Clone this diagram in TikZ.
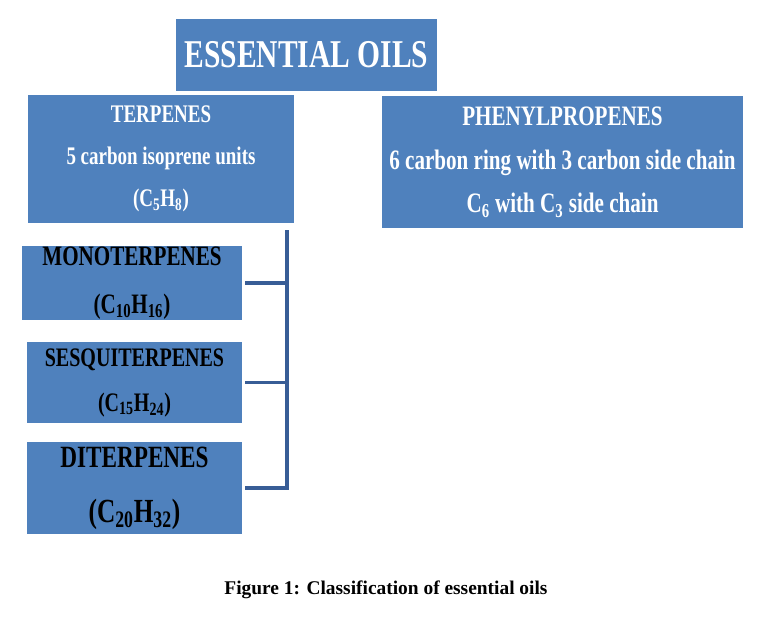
\documentclass[tikz,border=0pt]{standalone}
\usepackage{fontspec}
\setmainfont{Liberation Serif}
\newfontfamily\narrowfont{Liberation Serif}[FakeStretch=0.75]
\usepackage{tikz}
\usetikzlibrary{calc}
\definecolor{boxblue}{RGB}{79,129,189}
\definecolor{linkblue}{RGB}{56,93,150}
\tikzstyle{box} = [draw=none,fill=boxblue,align=center,inner sep=0pt]
\tikzstyle{link} = [linkblue,line width=2.2pt]

\begin{document}
\begin{tikzpicture}[x=0.025cm,y=-0.025cm]
\useasboundingbox (0,0) rectangle (776,641);

% top level
\node[box,text=white,minimum width=6.525cm,minimum height=1.8cm,
      font=\narrowfont\bfseries\fontsize{28}{30}\selectfont] (oils) at (306.5,55) {ESSENTIAL OILS};

% the two classes
\node[box,text=white,minimum width=6.65cm,minimum height=3.2cm,
      font=\narrowfont\bfseries\fontsize{18}{30}\selectfont] (terp) at (161,159)
      {TERPENES\\5 carbon isoprene units\\(C\textsubscript{5}H\textsubscript{8})};
\node[box,text=white,minimum width=9.025cm,minimum height=3.3cm,
      font=\narrowfont\bfseries\fontsize{20}{31}\selectfont] (phenyl) at (562.5,162)
      {PHENYLPROPENES\\6 carbon ring with 3 carbon side chain\\C\textsubscript{6} with C\textsubscript{3} side chain};

% kinds of terpenes
\node[box,text=black,minimum width=5.5cm,minimum height=1.85cm,
      font=\narrowfont\bfseries\fontsize{20}{34}\selectfont] (mono) at (132,283)
      {MONOTERPENES\\(C\textsubscript{10}H\textsubscript{16})};
\node[box,text=black,minimum width=5.375cm,minimum height=2.025cm,
      font=\narrowfont\bfseries\fontsize{19}{32}\selectfont] (sesqui) at (134.5,382.5)
      {SESQUITERPENES\\(C\textsubscript{15}H\textsubscript{24})};
\node[box,text=black,minimum width=5.375cm,minimum height=2.3cm,
      font=\narrowfont\bfseries\fontsize{22}{39}\selectfont] (di) at (134.5,488)
      {DITERPENES\\{\fontsize{24}{39}\selectfont(C\textsubscript{20}H\textsubscript{32})}};

% bracket
\coordinate (trunk) at (287,230);
\draw [link,shorten >=2pt] (trunk) |- (di.east);
\draw [link,shorten <=2pt] (mono.east) -- (mono.east -| trunk);
\draw [link,shorten <=2pt] (sesqui.east) -- (sesqui.east -| trunk);

\node[font=\bfseries\fontsize{13.8}{16}\selectfont] (caption) at (386,590)
      {Figure 1: Classification of essential oils};

\end{tikzpicture}
\end{document}
